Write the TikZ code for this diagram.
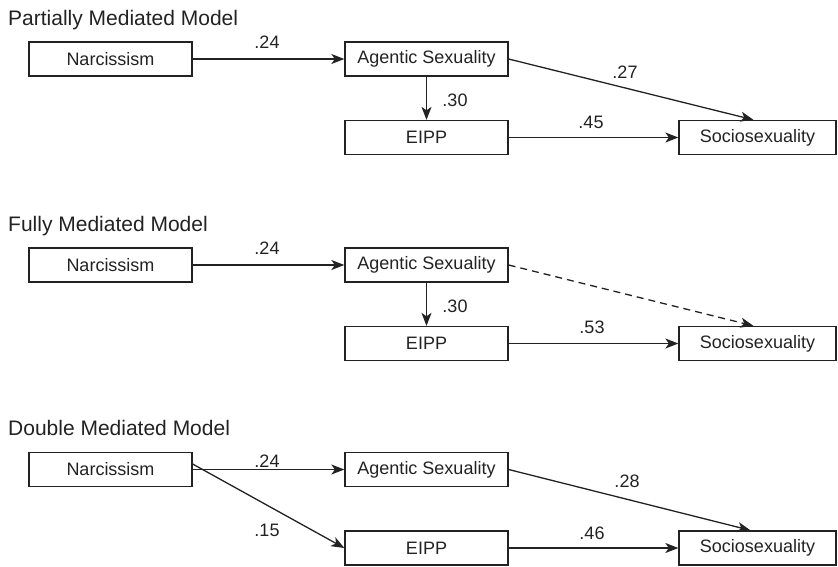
\documentclass[tikz,border=0pt]{standalone}
\usepackage{fontspec}
\setmainfont{Liberation Sans}
\usetikzlibrary{arrows.meta}
\definecolor{ink}{HTML}{222222}
\begin{document}
\begin{tikzpicture}[x=1pt,y=-1pt,
  every node/.style={text=ink},
  varbox/.style={draw=ink,line width=1.3pt,minimum width=163pt,minimum height=34pt,inner sep=0pt,font=\fontsize{18}{20}\selectfont},
  sobox/.style={varbox,minimum width=157pt},
  coef/.style={inner sep=0pt,font=\fontsize{18}{20}\selectfont},
  ttl/.style={anchor=base west,inner sep=0pt,font=\fontsize{21}{24}\selectfont},
  path/.style={draw=ink,line width=1.3pt,-{Stealth[length=13pt,width=10pt,inset=3.5pt]}},
  dpath/.style={path,dash pattern=on 7pt off 5pt}]
\useasboundingbox (0,0) rectangle (838,566);

% ---------- Partially Mediated Model ----------
\node[ttl] (t1) at (8,25) {Partially Mediated Model};
\node[varbox] (n1) at (110.5,59) {Narcissism};
\node[varbox] (a1) at (426.5,59) {Agentic Sexuality};
\node[varbox] (e1) at (426.5,137.5) {EIPP};
\node[sobox] (s1) at (757.5,137.5) {Sociosexuality};
\draw[path] (n1) -- (a1);
\draw[path] (a1) -- (e1);
\draw[path] (a1.east) -- ([xshift=-4pt]s1.north);
\draw[path] (e1) -- (s1);
\node[coef] (c1a) at (267,42) {.24};
\node[coef] (c1b) at (455,100) {.30};
\node[coef] (c1c) at (625,72) {.27};
\node[coef] (c1d) at (591,122) {.45};

% ---------- Fully Mediated Model ----------
\node[ttl] (t2) at (8,231) {Fully Mediated Model};
\node[varbox] (n2) at (110.5,265) {Narcissism};
\node[varbox] (a2) at (426.5,265) {Agentic Sexuality};
\node[varbox] (e2) at (426.5,343.5) {EIPP};
\node[sobox] (s2) at (757.5,343.5) {Sociosexuality};
\draw[path] (n2) -- (a2);
\draw[path] (a2) -- (e2);
\draw[dpath] (a2.east) -- ([xshift=-4pt]s2.north);
\draw[path] (e2) -- (s2);
\node[coef] (c2a) at (267,248) {.24};
\node[coef] (c2b) at (455,306) {.30};
\node[coef] (c2d) at (592,327.5) {.53};

% ---------- Double Mediated Model ----------
\node[ttl] (t3) at (8,435) {Double Mediated Model};
\node[varbox] (n3) at (110.5,469.5) {Narcissism};
\node[varbox] (a3) at (426.5,469.5) {Agentic Sexuality};
\node[varbox] (e3) at (426.5,548) {EIPP};
\node[sobox] (s3) at (757.5,548) {Sociosexuality};
\draw[path] (n3) -- (a3);
\draw[path] ([yshift=5.5pt]n3.east) -- (e3.west);
\draw[path] (a3.east) -- ([xshift=-7pt]s3.north);
\draw[path] (e3) -- (s3);
\node[coef] (c3a) at (267,461) {.24};
\node[coef] (c3b) at (267,530) {.15};
\node[coef] (c3c) at (627,481) {.28};
\node[coef] (c3d) at (592,533) {.46};
\end{tikzpicture}
\end{document}
